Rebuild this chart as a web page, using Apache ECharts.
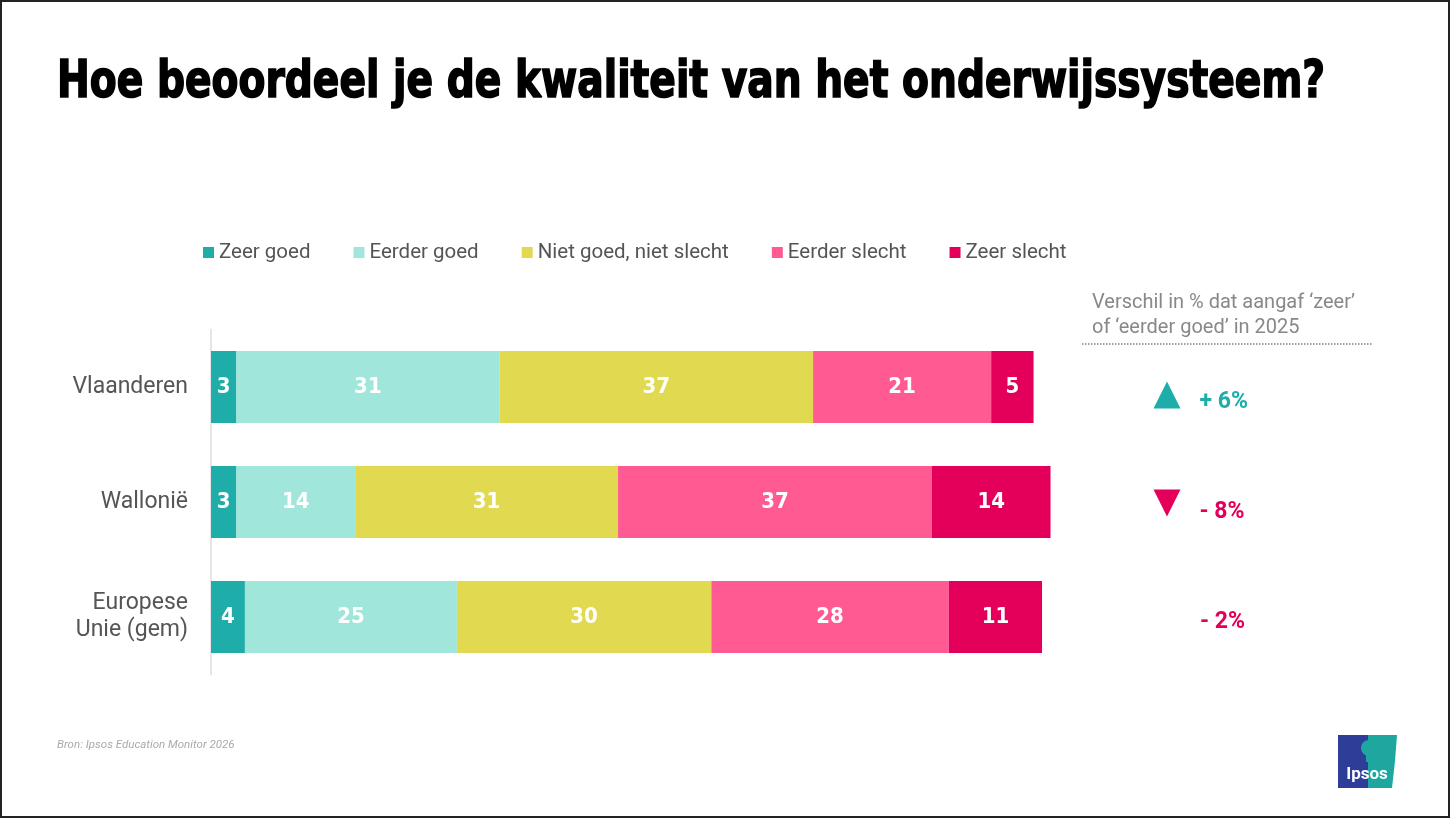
<!DOCTYPE html>
<html>
<head>
<meta charset="utf-8">
<script src="https://cdn.jsdelivr.net/npm/echarts@6/dist/echarts.min.js"></script>
<style>
  html, body { margin: 0; padding: 0; background: #fff; }
  #chart { width: 1451px; height: 819px; }
</style>
</head>
<body>
<div id="chart"></div>
<script>
const regions = ["Vlaanderen", "Wallonië", "Europese\nUnie (gem)"];
const seriesNames = ["Zeer goed", "Eerder goed", "Niet goed, niet slecht", "Eerder slecht", "Zeer slecht"];
const zeerGoed = [3, 3, 4];
const eerderGoed = [31, 14, 25];
const neutraal = [37, 31, 30];
const eerderSlecht = [21, 37, 28];
const zeerSlecht = [5, 14, 11];
const diffValues = [6, -8, -2];
const diffArrows = ["up", "down", "none"];

const colors = ["#1fada9", "#a0e6da", "#e1da50", "#ff5b92", "#e4005a"];
const TITLE = "Hoe beoordeel je de kwaliteit van het onderwijssysteem?";
const TITLE_FONT = '900 52px "DejaVu Sans Condensed", "DejaVu Sans", sans-serif';
const BODY_FONT = "Roboto, 'Noto Sans', sans-serif";

const chart = echarts.init(document.querySelector("#chart"));

// squeeze the title to the width it has in the reference
const ctx = document.createElement("canvas").getContext("2d");
ctx.font = TITLE_FONT;
const titleScale = 1268 / ctx.measureText(TITLE).width;

const barSeries = [zeerGoed, eerderGoed, neutraal, eerderSlecht, zeerSlecht].map((values, i) => ({
  name: seriesNames[i],
  type: "bar",
  stack: "total",
  xAxisIndex: 0,
  yAxisIndex: 0,
  barWidth: 72,
  data: values,
  itemStyle: { color: colors[i] },
  label: {
    show: true,
    position: "inside",
    color: "#fff",
    fontFamily: '"DejaVu Sans Condensed", sans-serif',
    fontWeight: "bold",
    fontSize: 22,
  },
}));

const diffSeries = {
  type: "scatter",
  xAxisIndex: 1,
  yAxisIndex: 1,
  silent: true,
  data: diffValues.map((v, i) => ({
    value: [0, regions[i]],
    symbol: "triangle",
    symbolRotate: diffArrows[i] === "down" ? 180 : 0,
    symbolSize: diffArrows[i] === "none" ? 0 : [27, 27],
    symbolOffset: [0, diffArrows[i] === "down" ? -9 : -7],
    itemStyle: { color: v > 0 ? colors[0] : colors[4], opacity: 1 },
    label: {
      show: true,
      position: "right",
      distance: diffArrows[i] === "none" ? 33 : 19,
      offset: [0, diffArrows[i] === "down" ? 9 : 7],
      formatter: (v > 0 ? "+ " : "- ") + Math.abs(v) + "%",
      color: v > 0 ? colors[0] : colors[4],
      fontFamily: BODY_FONT,
      fontWeight: "bold",
      fontSize: 23,
    },
  })),
};

chart.setOption({
  animation: false,
  legend: {
    data: seriesNames,
    top: 237,
    left: 198,
    itemWidth: 11,
    itemHeight: 11,
    itemGap: 43,
    icon: "rect",
    textStyle: { color: "#555", fontSize: 20.5, fontFamily: BODY_FONT },
  },
  grid: [
    { left: 211, top: 329.5, height: 345, width: 848 },
    { left: 1167, top: 347, height: 330, width: 100 },
  ],
  xAxis: [
    { type: "value", min: 0, max: 100, show: false, gridIndex: 0 },
    { type: "value", min: 0, max: 1, show: false, gridIndex: 1 },
  ],
  yAxis: [
    {
      type: "category",
      gridIndex: 0,
      inverse: true,
      data: regions,
      axisTick: { show: false },
      axisLine: { show: true, lineStyle: { color: "#e6e6e6", width: 2 } },
      axisLabel: {
        color: "#555",
        fontSize: 23,
        fontFamily: BODY_FONT,
        margin: 23,
        lineHeight: 27,
        align: "right",
      },
    },
    {
      type: "category",
      gridIndex: 1,
      inverse: true,
      data: regions,
      show: false,
    },
  ],
  series: [...barSeries, diffSeries],
  graphic: [
    {
      type: "rect",
      shape: { x: 1, y: 1, width: 1448, height: 816 },
      style: { fill: "none", stroke: "#222", lineWidth: 2 },
    },
    {
      type: "text",
      x: 57,
      y: 57,
      scaleX: titleScale,
      style: { text: TITLE, font: TITLE_FONT, fill: "#000", stroke: "#000", lineWidth: 1.6 },
    },
    {
      type: "text",
      x: 1092,
      y: 290,
      style: {
        text: "Verschil in % dat aangaf ‘zeer’\nof ‘eerder goed’ in 2025",
        fill: "#888",
        fontSize: 20,
        lineHeight: 25,
        fontFamily: BODY_FONT,
      },
    },
    {
      type: "line",
      shape: { x1: 1082, y1: 344, x2: 1373, y2: 344 },
      style: { stroke: "#444", lineWidth: 1.2, lineDash: [1.5, 1.5] },
    },
    {
      type: "text",
      x: 57,
      y: 739,
      style: {
        text: "Bron: Ipsos Education Monitor 2026",
        fill: "#aaa",
        fontSize: 11.5,
        fontStyle: "italic",
        fontFamily: BODY_FONT,
      },
    },
    // Ipsos logo
    {
      type: "group",
      x: 1338,
      y: 735,
      children: [
        { type: "rect", shape: { x: 0, y: 0, width: 30, height: 53 }, style: { fill: "#2e3d98" } },
        {
          type: "polygon",
          shape: { points: [[30, 0], [59, 0], [57, 26], [54, 53], [30, 53]] },
          style: { fill: "#1ea79f" },
        },
        { type: "circle", shape: { cx: 31, cy: 13, r: 8 }, style: { fill: "#1ea79f" } },
        { type: "rect", shape: { x: 28, y: 19, width: 6, height: 8 }, style: { fill: "#1ea79f" } },
        {
          type: "text",
          x: 29,
          y: 40,
          style: {
            text: "Ipsos",
            fill: "#fff",
            fontSize: 17,
            fontWeight: "bold",
            fontFamily: BODY_FONT,
            align: "center",
            verticalAlign: "middle",
          },
        },
      ],
    },
  ],
});
</script>
</body>
</html>
